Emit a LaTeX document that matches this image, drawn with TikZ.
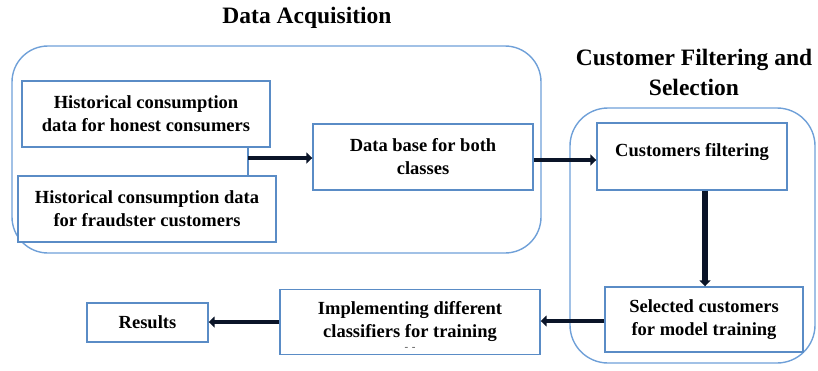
\documentclass[tikz,border=0pt]{standalone}
\usepackage{fontspec}
\setmainfont{Liberation Serif}
\usetikzlibrary{arrows.meta}
\definecolor{boxblue}{HTML}{5A8CC6}
\definecolor{groupblue}{HTML}{6FA0D8}
\definecolor{arrowdark}{HTML}{0A1428}
\tikzset{
  stage/.style={draw=boxblue, line width=1.4pt, fill=white, align=center,
    font=\fontsize{18.5}{23}\selectfont\bfseries, inner sep=0pt},
  group/.style={draw=groupblue, line width=1.4pt},
  title/.style={align=center, font=\fontsize{23.5}{30}\selectfont\bfseries},
  flow/.style={draw=arrowdark, line width=4.6pt,
    -{Triangle[length=6pt,width=11pt]}},
  joiner/.style={draw=boxblue, line width=1.6pt}
}
\begin{document}
\begin{tikzpicture}[x=1pt,y=-1pt]
\useasboundingbox (0,0) rectangle (818,370);

% group outlines
\draw[group, rounded corners=36pt] (12,46) rectangle (541,253);
\draw[group, rounded corners=38pt] (570,108) rectangle (815,363);

% group titles
\node[title] (tacq) at (307,18) {Data Acquisition};
\node[title] (tsel) at (694,72) {Customer Filtering and\\Selection};

% stages
\node[stage, minimum width=248pt, minimum height=66pt] (honest) at (146,114)
  {Historical consumption\\data for honest consumers};
\node[stage, minimum width=258pt, minimum height=66pt] (fraud) at (147,209)
  {Historical consumption data\\for fraudster customers};
\node[stage, minimum width=220pt, minimum height=66pt] (dbase) at (423,157)
  {Data base for both\\classes};
\node[stage, minimum width=190pt, minimum height=67pt] (filter) at (692,156.5) {};
\node[font=\fontsize{18.5}{23}\selectfont\bfseries] (filtertext) at (692,152)
  {Customers filtering};
\node[stage, minimum width=198pt, minimum height=65pt] (select) at (704,319.5)
  {Selected customers\\for model training};
\node[stage, minimum width=260pt, minimum height=65pt] (impl) at (410,322)
  {Implementing different\\classifiers for training};
\node[font=\fontsize{11}{11}\selectfont\bfseries, text=black!60] (dashes) at (410,349) {-\,\,-};
\node[stage, minimum width=121pt, minimum height=39pt] (results) at (147.5,322.5)
  {Results};

% merge of the two sources
\coordinate (merge) at (248,158);
\draw[joiner] (honest.south -| merge) -- (fraud.north -| merge);

% flow
\draw[flow] (merge) -- (dbase.west |- merge);
\draw[flow] (dbase.east |- 0,160) -- (filter.west |- 0,160);
\draw[flow, line width=5.8pt] (filter.south -| 705,0) -- (select.north -| 705,0);
\draw[flow] (select.west |- 0,321) -- (impl.east |- 0,321);
\draw[flow] (impl.west |- 0,322) -- (results.east |- 0,322);
\end{tikzpicture}
\end{document}
